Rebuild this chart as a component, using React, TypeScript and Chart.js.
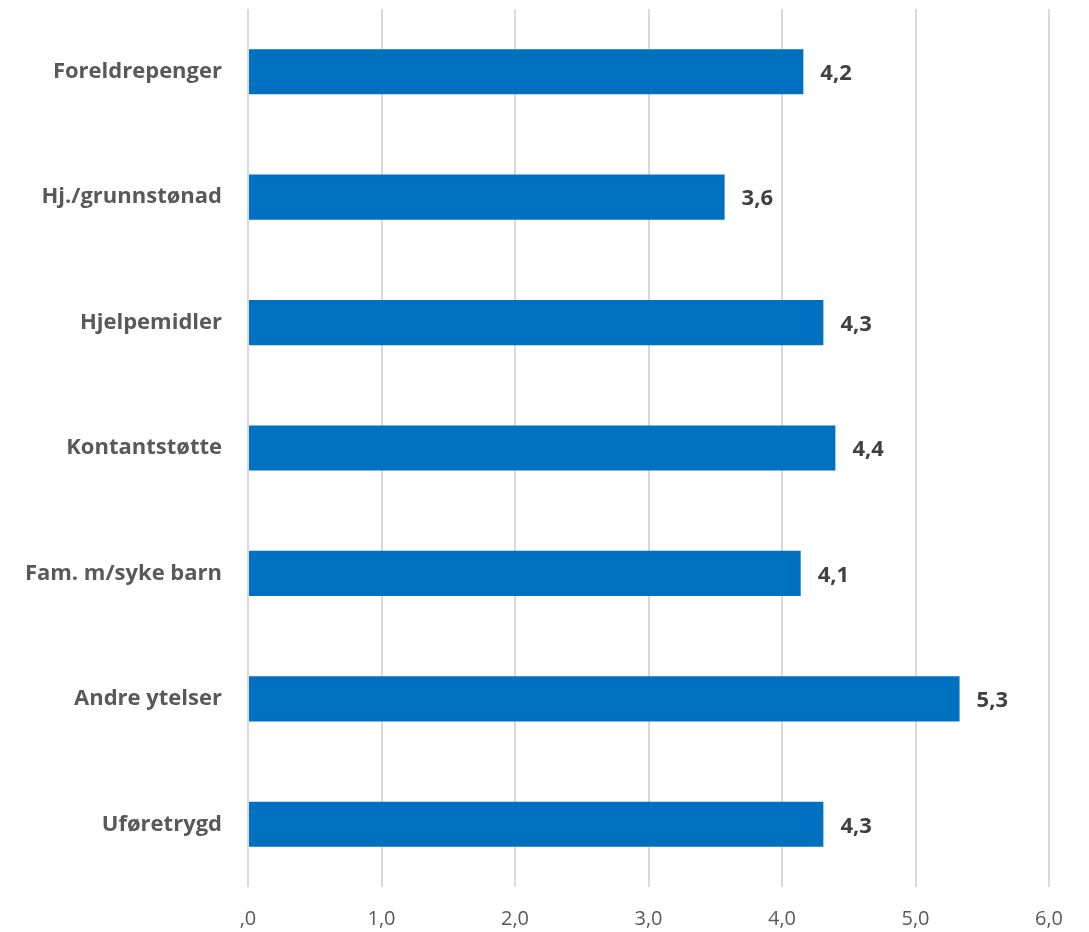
import React, { useEffect, useRef } from "react";
import { Chart, registerables } from "chart.js";

Chart.register(...registerables);

const categories = [
  "Foreldrepenger",
  "Hj./grunnstønad",
  "Hjelpemidler",
  "Kontantstøtte",
  "Fam. m/syke barn",
  "Andre ytelser",
  "Uføretrygd",
];
const values = [4.16, 3.57, 4.31, 4.4, 4.14, 5.33, 4.31];
const xTicks = [0, 1, 2, 3, 4, 5, 6];

const FONT = "'Open Sans', 'Liberation Sans', sans-serif";

const fmt = (v: number) => (v === 0 ? ",0" : v.toFixed(1).replace(".", ","));

const labelPlugin = {
  id: "barLabels",
  afterDatasetsDraw(chart: any) {
    const ctx = chart.ctx;
    const meta = chart.getDatasetMeta(0);
    ctx.save();
    ctx.font = `bold 22px ${FONT}`;
    ctx.fillStyle = "#404040";
    ctx.textAlign = "left";
    ctx.textBaseline = "middle";
    meta.data.forEach((bar: any, i: number) => {
      ctx.fillText(fmt(Math.round(values[i] * 10) / 10), bar.x + 17, bar.y + 2);
    });
    ctx.restore();
  },
};

export default function App() {
  const ref = useRef<HTMLCanvasElement>(null);
  useEffect(() => {
    if (!ref.current) return;
    const chart = new Chart(ref.current, {
      type: "bar",
      data: {
        labels: categories,
        datasets: [
          {
            data: values,
            backgroundColor: "#0070C0",
            categoryPercentage: 1,
            barPercentage: 0.36,
          },
        ],
      },
      plugins: [labelPlugin],
      options: {
        indexAxis: "y",
        animation: false,
        responsive: false,
        maintainAspectRatio: false,
        layout: { padding: { top: 9, right: 40, left: 0, bottom: 0 } },
        plugins: { legend: { display: false }, tooltip: { enabled: false } },
        scales: {
          x: {
            min: 0,
            max: 6,
            afterBuildTicks: (s: any) => {
              s.ticks = xTicks.map((v) => ({ value: v }));
            },
            afterFit: (s: any) => {
              s.height = 45;
              s.paddingLeft = 0;
              s.paddingRight = 0;
            },
            grid: { color: "#d9d9d9", lineWidth: 2, drawTicks: false },
            border: { display: false },
            ticks: {
              padding: 20,
              color: "#595959",
              font: { family: FONT, size: 20 },
              callback: (v: any) => fmt(Number(v)),
            },
          },
          y: {
            afterFit: (s: any) => {
              s.width = 248;
              s.paddingTop = 0;
              s.paddingBottom = 0;
            },
            grid: { display: false, drawTicks: false },
            border: { display: false },
            ticks: {
              padding: 26,
              color: "#595959",
              font: { family: FONT, size: 22, weight: "bold" },
            },
          },
        },
      },
    });
    return () => chart.destroy();
  }, []);
  return (
    <div style={{ position: "fixed", left: 0, top: 0, width: 1089, height: 932, background: "#fff" }}>
      <canvas ref={ref} width={1089} height={932} style={{ width: 1089, height: 932 }} />
    </div>
  );
}
